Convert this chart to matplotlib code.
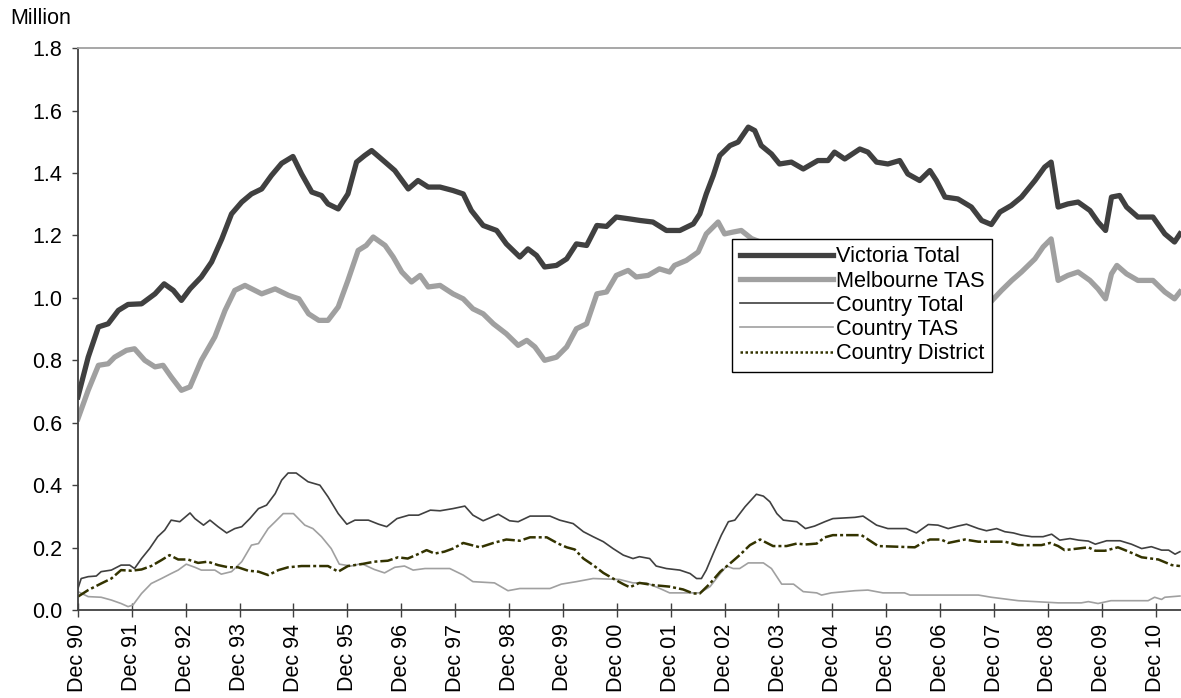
import numpy as np
import matplotlib
matplotlib.use('Agg')
import matplotlib.pyplot as plt
from matplotlib.lines import Line2D

plt.rcParams['font.family'] = ['Liberation Sans', 'DejaVu Sans']

# time axis: years after Dec 1990
tick_labels = ['Dec 90', 'Dec 91', 'Dec 92', 'Dec 93', 'Dec 94', 'Dec 95', 'Dec 96',
               'Dec 97', 'Dec 98', 'Dec 99', 'Dec 00', 'Dec 01', 'Dec 02', 'Dec 03',
               'Dec 04', 'Dec 05', 'Dec 06', 'Dec 07', 'Dec 08', 'Dec 09', 'Dec 10']

vic_t = [0, 0.19, 0.38, 0.56, 0.75, 0.93, 1.18, 1.43, 1.6, 1.77, 1.92, 2.08, 2.29, 2.48,
         2.67, 2.85, 3.04, 3.22, 3.41, 3.59, 3.78, 3.99, 4.15, 4.34, 4.52, 4.64, 4.83,
         5.01, 5.17, 5.32, 5.45, 5.7, 5.88, 6.13, 6.31, 6.5, 6.72, 6.96, 7.15, 7.3, 7.52,
         7.77, 7.95, 8.2, 8.35, 8.51, 8.66, 8.88, 9.07, 9.25, 9.44, 9.63, 9.81, 9.99,
         10.24, 10.43, 10.67, 10.92, 11.17, 11.42, 11.54, 11.66, 11.79, 11.91, 12.1,
         12.25, 12.44, 12.56, 12.68, 12.87, 13.02, 13.24, 13.46, 13.73, 13.92, 14.04,
         14.23, 14.51, 14.66, 14.82, 15.03, 15.25, 15.4, 15.62, 15.81, 15.93, 16.09,
         16.33, 16.58, 16.77, 16.95, 17.11, 17.32, 17.51, 17.76, 17.94, 18.06, 18.19,
         18.37, 18.56, 18.78, 18.93, 19.07, 19.18, 19.33, 19.46, 19.67, 19.95, 20.17,
         20.35, 20.45]
vic_v = [0.683, 0.81, 0.907, 0.917, 0.96, 0.979, 0.981, 1.013, 1.045, 1.024, 0.992, 1.029,
         1.067, 1.115, 1.189, 1.269, 1.307, 1.333, 1.349, 1.392, 1.431, 1.453, 1.397,
         1.339, 1.328, 1.301, 1.285, 1.333, 1.435, 1.456, 1.472, 1.435, 1.408, 1.349,
         1.376, 1.355, 1.355, 1.344, 1.333, 1.28, 1.232, 1.216, 1.173, 1.131, 1.157,
         1.136, 1.099, 1.104, 1.125, 1.173, 1.168, 1.232, 1.229, 1.259, 1.253, 1.248,
         1.243, 1.216, 1.216, 1.237, 1.269, 1.333, 1.392, 1.456, 1.488, 1.499, 1.547,
         1.536, 1.488, 1.461, 1.429, 1.435, 1.413, 1.44, 1.44, 1.467, 1.445, 1.477,
         1.467, 1.435, 1.429, 1.44, 1.397, 1.376, 1.408, 1.376, 1.323, 1.317, 1.291,
         1.248, 1.235, 1.275, 1.296, 1.323, 1.376, 1.419, 1.435, 1.291, 1.301, 1.307,
         1.28, 1.243, 1.216, 1.323, 1.328, 1.291, 1.259, 1.259, 1.205, 1.179, 1.205]

melb_t = [0, 0.19, 0.38, 0.56, 0.68, 0.9, 1.05, 1.24, 1.43, 1.58, 1.73, 1.92, 2.08, 2.29,
          2.54, 2.73, 2.91, 3.1, 3.41, 3.66, 3.91, 4.1, 4.28, 4.47, 4.64, 4.83, 5.01,
          5.2, 5.35, 5.48, 5.7, 5.85, 6.01, 6.19, 6.35, 6.5, 6.72, 6.96, 7.15, 7.33,
          7.52, 7.71, 7.95, 8.17, 8.33, 8.48, 8.66, 8.88, 9.07, 9.25, 9.44, 9.63, 9.81,
          9.99, 10.21, 10.36, 10.58, 10.79, 10.98, 11.07, 11.29, 11.51, 11.66, 11.88,
          12.0, 12.16, 12.31, 12.5, 12.8, 13.1, 13.5, 14.0, 14.5, 15.0, 15.5, 16.0,
          16.5, 16.9, 17.14, 17.33, 17.51, 17.76, 17.91, 18.06, 18.19, 18.37, 18.56,
          18.78, 18.93, 19.07, 19.18, 19.28, 19.46, 19.67, 19.95, 20.17, 20.35, 20.45]
melb_v = [0.613, 0.704, 0.784, 0.789, 0.81, 0.832, 0.837, 0.8, 0.779, 0.784, 0.747, 0.704,
          0.715, 0.8, 0.875, 0.96, 1.024, 1.04, 1.013, 1.029, 1.008, 0.997, 0.949, 0.928,
          0.928, 0.971, 1.056, 1.152, 1.168, 1.195, 1.168, 1.131, 1.083, 1.051, 1.072,
          1.035, 1.04, 1.013, 0.997, 0.965, 0.949, 0.917, 0.885, 0.848, 0.864, 0.843,
          0.8, 0.81, 0.843, 0.901, 0.917, 1.013, 1.019, 1.072, 1.088, 1.067, 1.072,
          1.093, 1.083, 1.104, 1.12, 1.147, 1.205, 1.243, 1.205, 1.211, 1.216, 1.19,
          1.17, 1.15, 1.14, 1.16, 1.17, 1.15, 1.11, 1.05, 1.02, 0.98, 1.024, 1.056,
          1.083, 1.125, 1.163, 1.189, 1.056, 1.072, 1.083, 1.056, 1.029, 0.997, 1.077,
          1.104, 1.077, 1.056, 1.056, 1.019, 0.997, 1.019]

ctot_t = [0, 0.06, 0.19, 0.34, 0.43, 0.62, 0.8, 0.96, 1.05, 1.18, 1.33, 1.48, 1.61, 1.73,
          1.89, 2.08, 2.17, 2.33, 2.45, 2.6, 2.76, 2.91, 3.04, 3.19, 3.35, 3.5, 3.66,
          3.78, 3.9, 4.05, 4.27, 4.49, 4.64, 4.83, 4.99, 5.14, 5.39, 5.58, 5.73, 5.92,
          6.14, 6.32, 6.54, 6.72, 6.96, 7.18, 7.33, 7.52, 7.8, 8.01, 8.17, 8.39, 8.76,
          8.94, 9.19, 9.38, 9.56, 9.75, 9.93, 10.12, 10.3, 10.42, 10.61, 10.73, 10.92,
          11.17, 11.36, 11.48, 11.57, 11.66, 11.79, 11.94, 12.07, 12.19, 12.38, 12.59,
          12.72, 12.84, 12.97, 13.09, 13.34, 13.5, 13.67, 13.86, 14.01, 14.42, 14.57,
          14.82, 15.03, 15.37, 15.56, 15.78, 15.96, 16.15, 16.33, 16.49, 16.71, 16.86,
          17.05, 17.2, 17.36, 17.51, 17.7, 17.91, 18.07, 18.22, 18.41, 18.57, 18.75,
          18.88, 19.09, 19.34, 19.55, 19.74, 19.92, 20.11, 20.24, 20.36, 20.45]
ctot_v = [0.069, 0.101, 0.107, 0.109, 0.123, 0.128, 0.144, 0.144, 0.133, 0.165, 0.197,
          0.235, 0.256, 0.288, 0.283, 0.311, 0.293, 0.272, 0.288, 0.267, 0.247, 0.261,
          0.267, 0.293, 0.325, 0.336, 0.373, 0.416, 0.439, 0.439, 0.411, 0.4, 0.363,
          0.309, 0.275, 0.288, 0.288, 0.275, 0.267, 0.293, 0.304, 0.304, 0.32, 0.318,
          0.325, 0.333, 0.304, 0.286, 0.307, 0.286, 0.283, 0.301, 0.301, 0.288, 0.277,
          0.251, 0.235, 0.219, 0.197, 0.176, 0.165, 0.171, 0.165, 0.141, 0.133, 0.128,
          0.117, 0.101, 0.101, 0.128, 0.181, 0.24, 0.283, 0.288, 0.331, 0.371, 0.365,
          0.347, 0.309, 0.288, 0.283, 0.261, 0.269, 0.283, 0.293, 0.297, 0.301, 0.272,
          0.261, 0.261, 0.247, 0.274, 0.272, 0.261, 0.269, 0.275, 0.261, 0.254, 0.261,
          0.251, 0.247, 0.24, 0.235, 0.235, 0.243, 0.224, 0.229, 0.224, 0.221, 0.211,
          0.222, 0.222, 0.211, 0.197, 0.203, 0.192, 0.192, 0.179, 0.187]

ctas_t = [0, 0.19, 0.43, 0.62, 0.8, 0.93, 1.02, 1.18, 1.36, 1.55, 1.73, 1.86, 2.01, 2.17,
          2.29, 2.54, 2.66, 2.85, 3.04, 3.22, 3.35, 3.53, 3.66, 3.81, 4.0, 4.21, 4.36,
          4.52, 4.7, 4.85, 5.07, 5.26, 5.5, 5.69, 5.88, 6.06, 6.22, 6.44, 6.9, 7.15,
          7.33, 7.73, 7.98, 8.2, 8.76, 8.97, 9.25, 9.56, 10.05, 10.3, 10.55, 10.8,
          10.98, 11.54, 11.73, 11.92, 12.04, 12.16, 12.28, 12.44, 12.72, 12.87, 13.06,
          13.28, 13.46, 13.71, 13.8, 13.98, 14.42, 14.66, 14.94, 15.34, 15.44, 16.71,
          16.95, 17.45, 18.19, 18.62, 18.75, 18.93, 19.17, 19.86, 19.98, 20.11, 20.17,
          20.45]
ctas_v = [0.059, 0.043, 0.041, 0.032, 0.021, 0.011, 0.016, 0.053, 0.085, 0.101, 0.117,
          0.128, 0.147, 0.137, 0.128, 0.128, 0.115, 0.123, 0.155, 0.208, 0.213, 0.261,
          0.283, 0.309, 0.309, 0.272, 0.261, 0.235, 0.197, 0.147, 0.141, 0.149, 0.13,
          0.119, 0.137, 0.141, 0.128, 0.133, 0.133, 0.112, 0.091, 0.087, 0.062, 0.069,
          0.069, 0.083, 0.091, 0.101, 0.098, 0.087, 0.087, 0.069, 0.055, 0.055, 0.075,
          0.117, 0.141, 0.133, 0.133, 0.151, 0.151, 0.133, 0.083, 0.083, 0.059, 0.055,
          0.048, 0.055, 0.062, 0.064, 0.055, 0.055, 0.048, 0.048, 0.041, 0.03, 0.023,
          0.023, 0.027, 0.021, 0.03, 0.03, 0.041, 0.034, 0.041, 0.045]

cdis_t = [0, 0.19, 0.43, 0.62, 0.8, 0.99, 1.18, 1.36, 1.55, 1.7, 1.86, 2.04, 2.23, 2.41,
          2.6, 2.79, 2.97, 3.16, 3.35, 3.53, 3.72, 3.9, 4.15, 4.64, 4.83, 5.01, 5.26,
          5.5, 5.75, 5.94, 6.12, 6.31, 6.47, 6.62, 6.8, 6.96, 7.15, 7.46, 7.71, 7.95,
          8.2, 8.39, 8.7, 8.91, 9.07, 9.22, 9.38, 9.56, 9.75, 9.93, 10.12, 10.24, 10.42,
          10.67, 10.98, 11.23, 11.42, 11.54, 11.73, 11.92, 12.1, 12.28, 12.47, 12.66,
          12.9, 13.15, 13.34, 13.5, 13.71, 13.86, 14.01, 14.54, 14.85, 15.53, 15.65,
          15.81, 16.02, 16.15, 16.46, 16.71, 17.2, 17.45, 17.88, 18.04, 18.19, 18.31,
          18.75, 18.88, 19.06, 19.3, 19.43, 19.61, 19.74, 20.05, 20.3, 20.45]
cdis_v = [0.043, 0.064, 0.085, 0.101, 0.128, 0.126, 0.13, 0.141, 0.16, 0.176, 0.162,
          0.162, 0.151, 0.155, 0.144, 0.137, 0.137, 0.126, 0.123, 0.112, 0.128, 0.137,
          0.141, 0.141, 0.123, 0.141, 0.147, 0.155, 0.158, 0.169, 0.165, 0.179, 0.192,
          0.181, 0.187, 0.197, 0.215, 0.201, 0.215, 0.226, 0.222, 0.233, 0.233, 0.213,
          0.201, 0.194, 0.165, 0.144, 0.119, 0.101, 0.083, 0.073, 0.087, 0.08, 0.075,
          0.066, 0.053, 0.053, 0.085, 0.123, 0.149, 0.176, 0.208, 0.226, 0.205, 0.205,
          0.213, 0.21, 0.213, 0.233, 0.24, 0.24, 0.205, 0.201, 0.213, 0.226, 0.226,
          0.215, 0.226, 0.219, 0.219, 0.208, 0.208, 0.215, 0.205, 0.192, 0.201, 0.19,
          0.19, 0.201, 0.192, 0.179, 0.169, 0.162, 0.144, 0.141]

dark = '#404040'
light = '#a0a0a0'
olive = '#333300'

fig = plt.figure(figsize=(11.81, 6.98), dpi=100)
ax = fig.add_axes([0.066, 0.126, 0.934, 0.805])

ax.plot(vic_t, vic_v, color=dark, lw=3.8, solid_joinstyle='round')
ax.plot(melb_t, melb_v, color=light, lw=3.8, solid_joinstyle='round')
ax.plot(ctot_t, ctot_v, color=dark, lw=1.2)
ax.plot(ctas_t, ctas_v, color=light, lw=1.2)
ax.plot(cdis_t, cdis_v, color=olive, lw=1.8, linestyle=(0, (5, 1.2, 1.2, 1.2)))

ax.set_xlim(0, 20.47)
ax.set_ylim(0, 1.8)
ax.set_yticks(np.arange(0, 1.81, 0.2))
ax.set_yticklabels(['%.1f' % v for v in np.arange(0, 1.81, 0.2)], fontsize=15.5)
ax.set_xticks(np.arange(len(tick_labels)))
ax.set_xticklabels(tick_labels, rotation=90, fontsize=15.5)

ax.tick_params(axis='y', direction='out', length=4.5, width=1, color=dark, pad=7)
ax.tick_params(axis='x', direction='inout', length=9.5, width=1, color=dark, pad=5)

for s in ['left', 'bottom']:
    ax.spines[s].set_color(dark)
    ax.spines[s].set_linewidth(1.3)
ax.spines['top'].set_color(light)
ax.spines['top'].set_linewidth(1.3)
ax.spines['right'].set_visible(False)

fig.text(0.0085, 0.966, 'Million', fontsize=15.5, va='baseline')

handles = [Line2D([], [], color=dark, lw=3.8),
           Line2D([], [], color=light, lw=3.8),
           Line2D([], [], color=dark, lw=1.2),
           Line2D([], [], color=light, lw=1.2),
           Line2D([], [], color=olive, lw=1.8, linestyle=(0, (1, 1)))]
names = ['Victoria Total', 'Melbourne TAS', 'Country Total', 'Country TAS', 'Country District']
leg = ax.legend(handles, names, loc='upper left', bbox_to_anchor=(0.593, 0.661),
                fontsize=15.7, frameon=True, fancybox=False, borderpad=0.35,
                handlelength=4.3, handletextpad=0.12, labelspacing=0.15, borderaxespad=0)
leg.get_frame().set_edgecolor('black')
leg.get_frame().set_linewidth(1)
leg.get_frame().set_alpha(1)

plt.savefig('out.png', dpi=100)
